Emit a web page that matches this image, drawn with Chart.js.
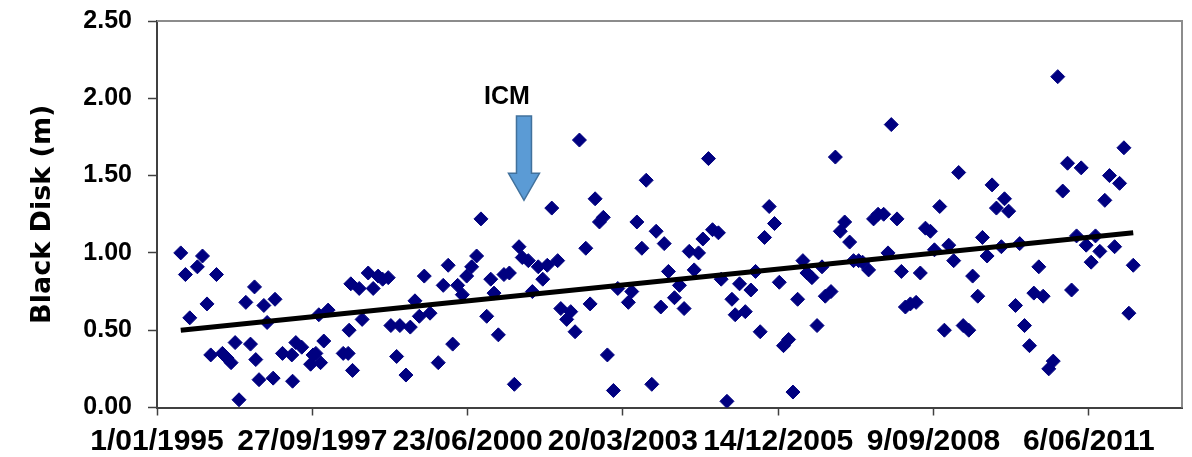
<!DOCTYPE html>
<html>
<head>
<meta charset="utf-8">
<script src="https://cdn.jsdelivr.net/npm/chart.js@4.4.1/dist/chart.umd.min.js"></script>
<style>
  html, body { margin: 0; padding: 0; background: #fff; }
</style>
</head>
<body>
<canvas id="chart" width="1192" height="457"></canvas>
<script>
// sampling dates as Excel day serials (1/01/1995 = 34700)
const dates = [
  34853, 34883, 34911, 34960, 34993, 35022, 35046, 35083, 35121, 35151,
  35177, 35203, 35228, 35272, 35302, 35328, 35336, 35357, 35388, 35409,
  35448, 35460, 35508, 35568, 35573, 35594, 35632, 35689, 35705, 35723,
  35742, 35753, 35774, 35802,
  35899, 35931, 35937, 35948, 35959, 36002, 36021, 36060, 36092, 36124,
  36153, 36189, 36206, 36243, 36264, 36303, 36331, 36361, 36389, 36421,
  36458, 36511, 36543, 36575, 36604, 36636, 36666, 36694, 36726, 36758,
  36786, 36823, 36849, 36870, 36898,
  36934, 36969, 37001, 37031, 37052, 37091, 37117, 37155, 37184, 37213,
  37242, 37280, 37300, 37338, 37364, 37392, 37420, 37461, 37489, 37521,
  37549, 37574, 37600, 37639, 37667, 37735, 37757, 37790, 37822, 37850,
  37886, 37914, 37944, 37966, 37993,
  38032, 38064, 38094, 38127, 38159, 38187, 38215, 38251, 38277, 38315,
  38333, 38370, 38402, 38423, 38451, 38488, 38524, 38554, 38584, 38612,
  38642, 38676, 38707, 38734, 38767, 38795, 38825, 38859, 38885, 38917,
  38950, 38982, 39003, 39040, 39068,
  39100, 39128, 39160, 39185, 39218, 39243, 39282, 39314, 39343, 39379,
  39407, 39428, 39465, 39493, 39519, 39551, 39588, 39615, 39648, 39680,
  39706, 39740, 39770, 39798, 39830, 39862, 39891, 39927, 39952, 39985,
  40015, 40045, 40077, 40105, 40137, 40157, 40184,
  40228, 40255, 40286, 40318, 40346, 40378, 40406, 40442, 40471, 40500,
  40532, 40563, 40589, 40621, 40651, 40683, 40715, 40743, 40771, 40803,
  40833, 40866, 40898, 40926, 40958, 40986
];

// black disk visibility (m)
const disk = [
  1.00, 0.86, 0.58, 0.91, 0.98, 0.67, 0.34, 0.86, 0.35, 0.32,
  0.29, 0.42, 0.05, 0.68, 0.41, 0.78, 0.31, 0.18, 0.66, 0.55,
  0.19, 0.70, 0.35, 0.34, 0.17, 0.42, 0.39, 0.28, 0.34, 0.35,
  0.60, 0.29, 0.43, 0.63,
  0.35, 0.35, 0.50, 0.80, 0.24, 0.77, 0.57, 0.87, 0.77, 0.85,
  0.83, 0.84, 0.53, 0.33, 0.53, 0.21, 0.52, 0.69, 0.59, 0.85,
  0.61, 0.29, 0.79, 0.92, 0.41, 0.79, 0.73, 0.85, 0.91, 0.98,
  1.22, 0.59, 0.83, 0.74, 0.47,
  0.86, 0.87, 0.15, 1.04, 0.97, 0.95, 0.75, 0.91, 0.83, 0.92,
  1.29, 0.95, 0.64, 0.57, 0.62, 0.49, 1.73, 1.03, 0.67, 1.35,
  1.20, 1.23, 0.34, 0.11, 0.77, 0.68, 0.75, 1.20, 1.03, 1.47,
  0.15, 1.14, 0.65, 1.06, 0.88,
  0.71, 0.79, 0.64, 1.01, 0.89, 1.00, 1.09, 1.61, 1.15, 1.13,
  0.83, 0.04, 0.70, 0.60, 0.80, 0.62, 0.76, 0.88, 0.49, 1.10,
  1.30, 1.19, 0.81, 0.40, 0.44, 0.10, 0.70, 0.95, 0.87, 0.84,
  0.53, 0.91, 0.72, 0.75, 1.62,
  1.14, 1.20, 1.07, 0.95, 0.95, 0.94, 0.89, 1.22, 1.25, 1.25,
  1.00, 1.83, 1.22, 0.88, 0.65, 0.67, 0.68, 0.87, 1.16, 1.14,
  1.02, 1.30, 0.50, 1.05, 0.95, 1.52, 0.53, 0.50, 0.85, 0.72,
  1.10, 0.98, 1.44, 1.29, 1.04, 1.35, 1.27,
  0.66, 1.06, 0.53, 0.40, 0.74, 0.91, 0.72, 0.25, 0.30, 2.14,
  1.40, 1.58, 0.76, 1.11, 1.55, 1.05, 0.94, 1.11, 1.01, 1.34,
  1.50, 1.04, 1.45, 1.68, 0.61, 0.92
];

// linear trend, read at both ends
const trendDates = [34853, 40986];
const trendValues = [0.50, 1.13];

const xTickValues = [34700, 35700, 36700, 37700, 38700, 39700, 40700];
const xTickLabels = ['1/01/1995', '27/09/1997', '23/06/2000', '20/03/2003', '14/12/2005', '9/09/2008', '6/06/2011'];

// ICM marker (date, arrow top value, arrow tip value)
const icm = { label: 'ICM', date: 37063, top: 1.886, tip: 1.34 };

const tickFont = '"Liberation Sans", Arial, sans-serif';

const plotFrame = {
  id: 'plotFrame',
  beforeDatasetsDraw(chart) {
    const { ctx, chartArea: a } = chart;
    ctx.save();
    ctx.strokeStyle = '#8c8c8c';
    ctx.lineWidth = 2;
    ctx.beginPath();
    ctx.moveTo(a.left, a.top);
    ctx.lineTo(a.right, a.top);
    ctx.lineTo(a.right, a.bottom);
    ctx.stroke();
    ctx.restore();
  }
};

const icmMarker = {
  id: 'icmMarker',
  afterDatasetsDraw(chart) {
    const { ctx, scales: { x, y } } = chart;
    const cx = x.getPixelForValue(icm.date);
    const top = y.getPixelForValue(icm.top);
    const tip = y.getPixelForValue(icm.tip);
    const shaft = 7.5, head = 15.5, headLen = 27;
    ctx.save();
    ctx.beginPath();
    ctx.moveTo(cx - shaft, top);
    ctx.lineTo(cx + shaft, top);
    ctx.lineTo(cx + shaft, tip - headLen);
    ctx.lineTo(cx + head, tip - headLen);
    ctx.lineTo(cx, tip);
    ctx.lineTo(cx - head, tip - headLen);
    ctx.lineTo(cx - shaft, tip - headLen);
    ctx.closePath();
    ctx.fillStyle = '#5b9bd5';
    ctx.fill();
    ctx.strokeStyle = '#41719c';
    ctx.lineWidth = 1.5;
    ctx.stroke();
    ctx.font = 'bold 25px ' + tickFont;
    ctx.fillStyle = '#000';
    ctx.textAlign = 'center';
    ctx.fillText(icm.label, cx - 17, top - 12);
    ctx.restore();
  }
};

const ctx = document.getElementById('chart').getContext('2d');
new Chart(ctx, {
  type: 'scatter',
  data: {
    datasets: [{
      label: 'Black Disk',
      data: dates.map((d, i) => ({ x: d, y: disk[i] })),
      pointStyle: 'rectRot',
      pointRadius: 7,
      pointBackgroundColor: '#000080',
      pointBorderColor: '#000080',
      pointBorderWidth: 1,
      order: 2
    }, {
      label: 'Trend',
      data: trendDates.map((d, i) => ({ x: d, y: trendValues[i] })),
      showLine: true,
      borderColor: '#000',
      borderWidth: 5,
      pointRadius: 0,
      fill: false,
      order: 1
    }]
  },
  options: {
    responsive: false,
    animation: false,
    devicePixelRatio: 1,
    layout: { padding: { top: 21, right: 10, left: 0, bottom: 0 } },
    plugins: { legend: { display: false }, tooltip: { enabled: false } },
    scales: {
      x: {
        type: 'linear',
        min: 34700,
        max: 41300,
        afterBuildTicks: s => { s.ticks = xTickValues.map(v => ({ value: v })); },
        afterFit: s => { s.height = 49.5; },
        ticks: {
          callback: (v, i) => xTickLabels[i],
          autoSkip: false,
          maxRotation: 0,
          padding: 8,
          color: '#000',
          font: { family: tickFont, size: 30, weight: 'bold' }
        },
        grid: { drawOnChartArea: false, tickLength: 8, tickColor: '#404040', tickWidth: 1.5 },
        border: { color: '#404040', width: 2 }
      },
      y: {
        min: 0,
        max: 2.5,
        afterFit: s => { s.width = 157; s.paddingTop = 0; s.paddingBottom = 0; },
        ticks: {
          stepSize: 0.5,
          callback: v => v.toFixed(2),
          padding: 16,
          color: '#000',
          font: { family: tickFont, size: 25, weight: 'bold' }
        },
        grid: { drawOnChartArea: false, tickLength: 9, tickColor: '#404040', tickWidth: 1.5 },
        border: { color: '#404040', width: 2 },
        title: {
          display: true,
          text: 'Black Disk (m)',
          color: '#000',
          padding: { top: 27, bottom: 0 },
          font: { family: '"DejaVu Sans", sans-serif', size: 27, weight: 'bold' }
        }
      }
    }
  },
  plugins: [plotFrame, icmMarker]
});
</script>
</body>
</html>
